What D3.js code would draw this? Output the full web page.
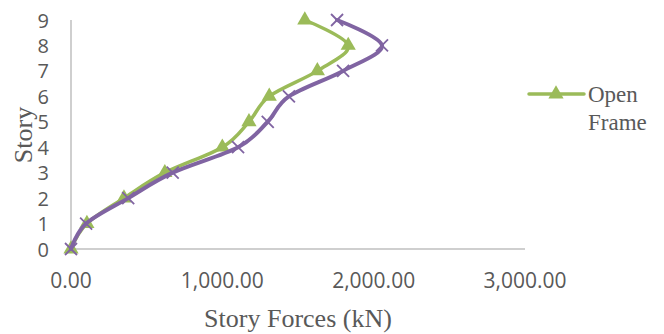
<!DOCTYPE html>
<html><head><meta charset="utf-8">
<script src="https://cdn.jsdelivr.net/npm/d3@7"></script>
<style>body{margin:0;background:#fff}</style>
</head><body>
<svg id="c" width="664" height="334"></svg>
<script>
const stories = [0,1,2,3,4,5,6,7,8,9];
const openFrame = [0,105,350,620,1000,1176,1310,1628,1832,1545];
const otherFrame = [0,100,378,672,1104,1300,1440,1798,2055,1758];
const xTicks = [0,1000,2000,3000];
const yTicks = [0,1,2,3,4,5,6,7,8,9];
const legendLabel = ["Open", "Frame"];

const svg = d3.select("#c");
const x = d3.scaleLinear().domain([0,3000]).range([71,525]);
const y = d3.scaleLinear().domain([0,9]).range([249,20]);
const fmt = d3.format(",.2f");

svg.append("line").attr("x1",x(0)).attr("x2",x(3000)).attr("y1",y(0)).attr("y2",y(0))
  .attr("stroke","#BFBFBF").attr("stroke-width",1.5);
svg.append("line").attr("x1",x(0)).attr("x2",x(0)).attr("y1",y(0)).attr("y2",y(9))
  .attr("stroke","#BFBFBF").attr("stroke-width",1.5);

svg.selectAll("text.xt").data(xTicks).enter().append("text").attr("class","xt")
  .attr("x",d=>x(d)).attr("y",288).attr("text-anchor","middle")
  .attr("font-family","Open Sans").attr("font-size",21).attr("fill","#595959")
  .text(d=>fmt(d));
svg.selectAll("text.yt").data(yTicks).enter().append("text").attr("class","yt")
  .attr("x",49).attr("y",d=>y(d)+7.5).attr("text-anchor","end")
  .attr("font-family","Open Sans").attr("font-size",20).attr("fill","#595959")
  .text(d=>d);

svg.append("text").attr("x",298).attr("y",327).attr("text-anchor","middle")
  .attr("font-family","Liberation Serif").attr("font-size",26).attr("fill","#595959")
  .text("Story Forces (kN)");
svg.append("text").attr("transform","translate(32,135) rotate(-90)").attr("text-anchor","middle")
  .attr("font-family","Liberation Serif").attr("font-size",26).attr("fill","#595959")
  .text("Story");

const line = d3.line().curve(d3.curveCatmullRom.alpha(0)).x(d=>x(d[0])).y(d=>y(d[1]));
const green = "#9BBB59", purple = "#8064A2";
const gData = stories.map((s,i)=>[openFrame[i],s]);
const pData = stories.map((s,i)=>[otherFrame[i],s]);

svg.append("path").datum(gData).attr("d",line).attr("fill","none").attr("stroke",green)
  .attr("stroke-width",3.5).attr("stroke-linejoin","round").attr("stroke-linecap","round");
const tri = d3.symbol().type(d3.symbolTriangle).size(100);
svg.selectAll("path.tri").data(gData).enter().append("path").attr("class","tri")
  .attr("d",tri).attr("transform",d=>`translate(${x(d[0])},${y(d[1])})`).attr("fill",green);

svg.append("path").datum(pData).attr("d",line).attr("fill","none").attr("stroke",purple)
  .attr("stroke-width",4).attr("stroke-linejoin","round").attr("stroke-linecap","round");
svg.selectAll("g.xm").data(pData).enter().append("g").attr("class","xm")
  .attr("transform",d=>`translate(${x(d[0])},${y(d[1])})`)
  .each(function(){
    const g=d3.select(this);
    g.append("line").attr("x1",-6).attr("y1",-6).attr("x2",6).attr("y2",6).attr("stroke",purple).attr("stroke-width",1.8);
    g.append("line").attr("x1",-6).attr("y1",6).attr("x2",6).attr("y2",-6).attr("stroke",purple).attr("stroke-width",1.8);
  });

svg.append("line").attr("x1",529).attr("x2",584).attr("y1",94).attr("y2",94)
  .attr("stroke",green).attr("stroke-width",3.5).attr("stroke-linecap","round");
svg.append("path").attr("d",tri).attr("transform","translate(556,94)").attr("fill",green);
svg.selectAll("text.lg").data(legendLabel).enter().append("text").attr("class","lg")
  .attr("x",588).attr("y",(d,i)=>102+i*28)
  .attr("font-family","Liberation Serif").attr("font-size",23).attr("fill","#595959")
  .text(d=>d);
</script>
</body></html>
